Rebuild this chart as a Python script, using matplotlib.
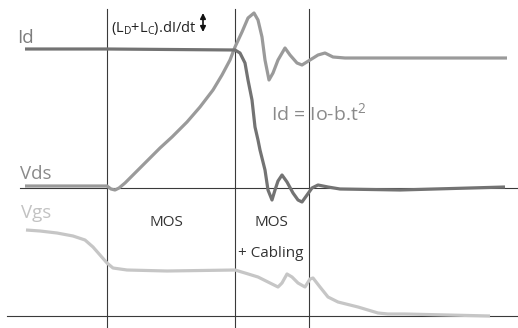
import matplotlib
matplotlib.use("Agg")
import matplotlib.pyplot as plt

plt.rcParams['font.family'] = ['Open Sans', 'DejaVu Sans']
plt.rcParams['mathtext.fontset'] = 'custom'
plt.rcParams['mathtext.rm'] = 'Open Sans'
plt.rcParams['mathtext.it'] = 'Open Sans'

# switching waveforms, sketched in a 518 x 328 frame (y grows downward)
id_t = [25, 107, 235, 240, 245, 248, 252, 255, 258, 260, 265, 268, 272, 275, 278, 282, 287, 293,
        298, 302, 307, 312, 318, 328, 340, 400, 505]
id_v = [49, 49, 50, 53, 63, 80, 100, 127, 140, 150, 170, 190, 200, 190, 181, 175, 182, 193,
        200, 202, 195, 188, 185, 187, 189, 190, 187]

vds_t = [25, 107, 111, 115, 119, 125, 132, 140, 150, 160, 172, 187, 200, 213, 222, 230, 235,
         242, 248, 254, 258, 262, 265, 269, 273, 278, 285, 290, 297, 302, 310, 318, 325,
         333, 345, 420, 507]
vds_v = [186, 186, 189, 190, 188, 183, 176, 168, 158, 148, 137, 122, 107, 90, 75, 60, 47,
         32, 18, 13, 20, 37, 60, 80, 73, 60, 48, 55, 63, 65, 60, 55, 53,
         57, 58, 58, 58]

vgs_t = [26, 40, 57, 73, 85, 93, 100, 107, 113, 127, 167, 235, 245, 258, 268, 278, 282, 287,
         292, 298, 305, 310, 313, 320, 328, 338, 358, 378, 388, 405, 490]
vgs_v = [230, 231, 233, 236, 240, 247, 255, 263, 268, 270, 271, 270, 273, 277, 282, 287, 283, 274,
         277, 283, 287, 279, 278, 287, 297, 302, 307, 313, 314, 314, 316]

phase_x = [107, 235, 309]
axis_y = [188, 316]

fig = plt.figure(figsize=(5.18, 3.28), dpi=100)
ax = fig.add_axes([0, 0, 1, 1])
ax.set_xlim(0, 518)
ax.set_ylim(328, 0)
ax.axis('off')

for x in phase_x:
    ax.plot([x, x], [9, 328], color='#3a3a3a', lw=0.8, zorder=1)
ax.plot([20, 518], [axis_y[0], axis_y[0]], color='#3a3a3a', lw=0.8, zorder=1)
ax.plot([7, 518], [axis_y[1], axis_y[1]], color='#3a3a3a', lw=0.8, zorder=1)

style = dict(lw=2.3, solid_capstyle='butt', solid_joinstyle='round')
ax.plot(vgs_t, vgs_v, color='#c6c6c6', zorder=2, **style)
ax.plot(vds_t, vds_v, color='#9a9a9a', zorder=3, **style)
ax.plot(id_t, id_v, color='#737373', zorder=4, **style)

ax.text(17, 43, "Id", color='#7d7d7d', fontsize=13.5, va='baseline')
ax.text(20, 179, "Vds", color='#8a8a8a', fontsize=13.5, va='baseline')
ax.text(21, 218, "Vgs", color='#c2c2c2', fontsize=13.5, va='baseline')

ax.text(166, 226, "MOS", color='#333333', fontsize=11, ha='center', va='baseline')
ax.text(271, 226, "MOS", color='#333333', fontsize=11, ha='center', va='baseline')
ax.text(271, 257, "+ Cabling", color='#333333', fontsize=11, ha='center', va='baseline')

ax.text(111, 32, r"(L$_{\mathrm{D}}$+L$_{\mathrm{C}}$).dI/dt", color='#222222', fontsize=10.5,
        va='baseline')
ax.annotate("", xy=(203, 13), xytext=(203, 32),
            arrowprops=dict(arrowstyle='<|-|>', color='#111111', lw=1.2,
                            mutation_scale=8, shrinkA=0, shrinkB=0))

ax.text(271, 120, r"Id = Io-b.t$^{2}$", color='#8a8a8a', fontsize=14, va='baseline')

fig.savefig("out.png", dpi=100)
